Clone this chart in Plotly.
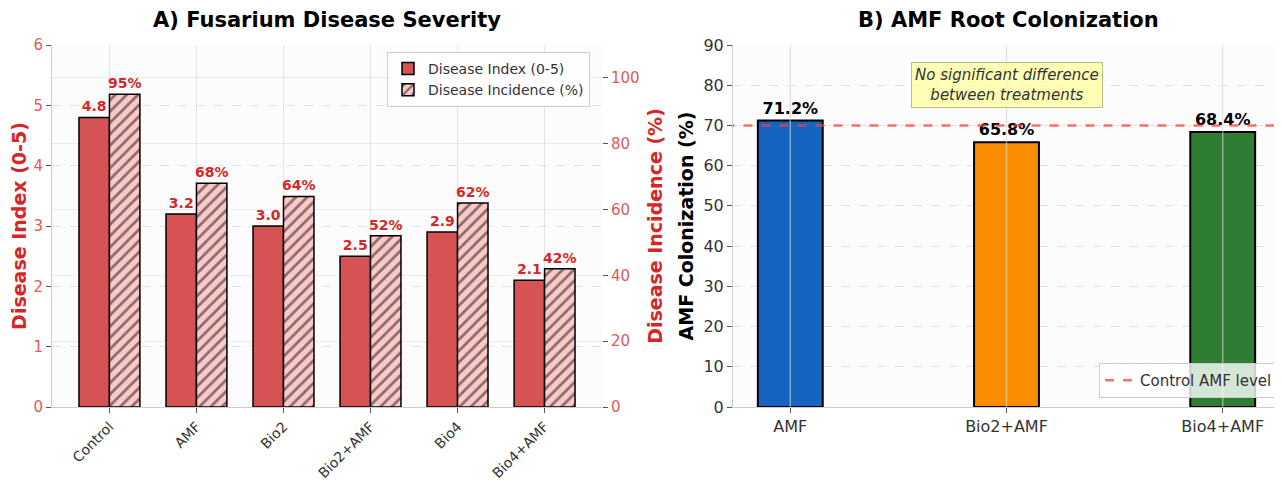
import plotly.graph_objects as go
from plotly.subplots import make_subplots

# ---- data ----
treatments = ["Control", "AMF", "Bio2", "Bio2+AMF", "Bio4", "Bio4+AMF"]
disease_index = [4.8, 3.2, 3.0, 2.5, 2.9, 2.1]
disease_incidence = [95, 68, 64, 52, 62, 42]

amf_treatments = ["AMF", "Bio2+AMF", "Bio4+AMF"]
amf_colonization = [71.2, 65.8, 68.4]
control_amf_level = 70

index_ticks = [0, 1, 2, 3, 4, 5, 6]
incidence_ticks = [0, 20, 40, 60, 80, 100]
amf_ticks = [0, 10, 20, 30, 40, 50, 60, 70, 80, 90]

# ---- style ----
FONT = "DejaVu Sans"
RED = "#d62728"
RED_TICK = "#e05a5a"
BAR_RED = "#d65354"
PINK = "#ffc9c9"
AMF_COLORS = ["#1565c0", "#fb8c00", "#2e7d32"]
GRID = "rgba(200,200,200,0.45)"

W, H = 1282, 482
OFF = 8  # page body margin
def px(x):
    return (x - OFF) / W
def py(y):
    return 1 - (y - OFF) / H

fig = make_subplots(rows=1, cols=2, specs=[[{"secondary_y": True}, {}]])

fig.add_trace(go.Bar(
    x=treatments, y=disease_index, name="Disease Index (0-5)",
    width=0.35, offset=-0.35,
    marker=dict(color=BAR_RED, line=dict(color="black", width=1.5)),
    text=[f"{v:.1f}" for v in disease_index], textposition="outside",
    textfont=dict(family=FONT, size=14, color=RED, weight="bold"),
    constraintext="none", cliponaxis=False,
), row=1, col=1, secondary_y=False)

fig.add_trace(go.Bar(
    x=treatments, y=disease_incidence, name="Disease Incidence (%)",
    width=0.35, offset=0,
    marker=dict(color=PINK, line=dict(color="black", width=1.5),
                pattern=dict(shape="/", fgcolor="#111", bgcolor=PINK, size=8, solidity=0.35)),
    text=[f"{v:.0f}%" for v in disease_incidence], textposition="outside",
    textfont=dict(family=FONT, size=14, color=RED, weight="bold"),
    constraintext="none", cliponaxis=False,
), row=1, col=1, secondary_y=True)

fig.add_trace(go.Bar(
    x=amf_treatments, y=amf_colonization, showlegend=False,
    width=0.3,
    marker=dict(color=AMF_COLORS, line=dict(color="black", width=2)),
    text=[f"{v:.1f}%" for v in amf_colonization], textposition="outside",
    textfont=dict(family=FONT, size=16, color="black", weight="bold"),
    constraintext="none", cliponaxis=False,
), row=1, col=2)

fig.add_trace(go.Scatter(
    x=[-0.3, 2.3], y=[control_amf_level, control_amf_level], mode="lines",
    name="Control AMF level",
    line=dict(color="rgba(255,60,60,0.75)", width=2.5, dash="dash"),
    xaxis="x3", yaxis="y4",
))

fig.update_layout(
    width=W, height=H,
    margin=dict(l=0, r=0, t=0, b=0),
    paper_bgcolor="white",
    plot_bgcolor="#fcfcfc",
    font=dict(family=FONT, size=14, color="#333"),
    barmode="overlay",
    showlegend=True,
    legend=dict(x=px(590), y=py(52), xanchor="right", yanchor="top",
                bgcolor="white", bordercolor="#cccccc", borderwidth=1,
                font=dict(family=FONT, size=14, color="#333"),
                tracegroupgap=0),
    legend2=dict(x=px(1278), y=py(398), xanchor="right", yanchor="bottom",
                 bgcolor="rgba(255,255,255,0.8)", bordercolor="#cccccc", borderwidth=1,
                 font=dict(family=FONT, size=15, color="#333")),
    xaxis=dict(domain=[px(52), px(602)], range=[-0.66, 5.66], type="category",
               tickangle=-45, tickfont=dict(family=FONT, size=14, color="#333"),
               showgrid=True, gridcolor=GRID, ticks="outside", ticklen=5, tickcolor="#555",
               showline=True, linecolor="#cccccc", automargin=False),
    yaxis=dict(domain=[py(407), py(45)], range=[0, 6], tickvals=index_ticks,
               tickfont=dict(family=FONT, size=15, color=RED_TICK),
               title=dict(text="<b>Disease Index (0-5)</b>", font=dict(family=FONT, size=19, color=RED), standoff=4),
               showgrid=True, gridcolor=GRID, griddash="dash", ticks="outside", ticklen=5, tickcolor="#555",
               showline=True, linecolor="#cccccc", zeroline=False, automargin=False),
    yaxis2=dict(range=[0, 110], tickvals=incidence_ticks,
                tickfont=dict(family=FONT, size=15, color=RED_TICK),
                title=dict(text="<b>Disease Incidence (%)</b>", font=dict(family=FONT, size=19, color=RED), standoff=10),
                showgrid=True, gridcolor="rgba(200,200,200,0.3)", ticks="outside", ticklen=5, tickcolor="#555",
                zeroline=False, automargin=False),
    xaxis2=dict(domain=[px(733), px(1280)], range=[-0.265, 2.265], type="category",
                tickfont=dict(family=FONT, size=16, color="#333"),
                showgrid=True, gridcolor="rgba(220,220,220,0.8)", ticks="outside", ticklen=5, tickcolor="#555",
                showline=True, linecolor="#cccccc", automargin=False),
    yaxis3=dict(domain=[py(407), py(45)], range=[0, 90], tickvals=amf_ticks,
                tickfont=dict(family=FONT, size=16, color="#333"),
                title=dict(text="<b>AMF Colonization (%)</b>", font=dict(family=FONT, size=19, color="black"), standoff=4),
                showgrid=True, gridcolor=GRID, griddash="dash", ticks="outside", ticklen=5, tickcolor="#555",
                showline=True, linecolor="#cccccc", zeroline=False, automargin=False),
    xaxis3=dict(domain=[px(733), px(1280)], range=[-0.265, 2.265], overlaying="x2",
                visible=False, anchor="y4"),
    yaxis4=dict(domain=[py(407), py(45)], range=[0, 90], overlaying="y3", visible=False, anchor="x3"),
)
fig.data[3].update(legend="legend2")

# light vertical gridlines drawn over the AMF bars (as in reference)
for cat in amf_treatments:
    fig.add_shape(type="line", x0=cat, x1=cat, y0=0, y1=1, xref="x2", yref="y3 domain",
                  line=dict(color="rgba(225,225,225,0.55)", width=1.5), layer="above")

fig.add_annotation(text="<b>A) Fusarium Disease Severity</b>", x=px(327), y=py(20),
                   xref="paper", yref="paper", xanchor="center", yanchor="middle", showarrow=False,
                   font=dict(family=FONT, size=21, color="black"))
fig.add_annotation(text="<b>B) AMF Root Colonization</b>", x=px(1008), y=py(20),
                   xref="paper", yref="paper", xanchor="center", yanchor="middle", showarrow=False,
                   font=dict(family=FONT, size=21, color="black"))
fig.add_annotation(text="<i>No significant difference<br>between treatments</i>",
                   x=1, y=80, xref="x2", yref="y3", showarrow=False,
                   font=dict(family=FONT, size=15, color="#333"),
                   bgcolor="rgba(255,255,150,0.7)", bordercolor="#bbbb88", borderwidth=1, borderpad=3)

fig.write_html("out.html")
